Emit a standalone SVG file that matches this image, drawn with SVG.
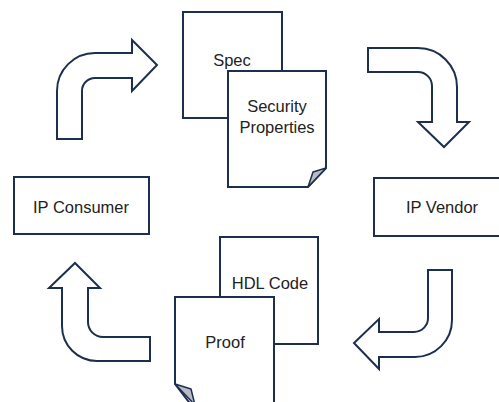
<svg xmlns="http://www.w3.org/2000/svg" width="499" height="402" viewBox="0 0 499 402">
<style>
.s{fill:#fff;stroke:#1d2f4f;stroke-width:2;stroke-linejoin:miter}
.f{fill:#b7bcc6;stroke:#1d2f4f;stroke-width:1.5;stroke-linejoin:round}
text{font-family:"Liberation Sans",Arial,sans-serif;font-size:16.5px;fill:#222;text-anchor:middle}
</style>
<rect width="499" height="402" fill="#fff"/>
<g id="connectors">
<path class="s" d="M57,139 L57,91 A38,38 0 0 1 95,53 L132,53 L132,40 L157,65 L132,91 L132,78 L95,78 A13,13 0 0 0 82,91 L82,139 Z"/>
<path class="s" d="M368,48 L418,48 A39,39 0 0 1 457,87 L457,122 L469,122 L444,147 L418,122 L432,122 L432,86 A14,14 0 0 0 418,72 L368,72 Z"/>
<path class="s" d="M428,270 L452,270 L452,320 A37,37 0 0 1 415,357 L379,357 L379,369 L354,343 L379,319 L379,332 L414,332 A14,14 0 0 0 428,318 Z"/>
<path class="s" d="M150,361 L150,337 L103,337 A15,15 0 0 1 88,322 L88,288 L100,288 L75,263 L49,288 L62,288 L62,326 A35,35 0 0 0 97,361 Z"/>
</g>
<g id="spec">
<rect class="s" x="183" y="12" width="99" height="106"/>
<text x="232" y="66">Spec</text>
</g>
<g id="security-properties">
<path class="s" d="M228,71 L326,71 L326,168 L308,187 L228,187 Z"/>
<path class="f" d="M326,168 L308,187 L313,172 Z"/>
<text x="277" y="112">Security</text>
<text x="277" y="133">Properties</text>
</g>
<g id="hdl-code">
<rect class="s" x="220" y="237" width="98" height="107"/>
<text x="270" y="289">HDL Code</text>
</g>
<g id="proof">
<path class="s" d="M175,297 L274,297 L274,410 L195,410 L175,384 Z"/>
<path class="f" d="M175,384 L191,389 L195,405 Z"/>
<text x="225" y="348">Proof</text>
</g>
<g id="ip-consumer">
<rect class="s" x="14" y="177" width="135" height="57"/>
<text x="81" y="213">IP Consumer</text>
</g>
<g id="ip-vendor">
<rect class="s" x="374" y="178" width="130" height="58"/>
<text x="442" y="213">IP Vendor</text>
</g>
</svg>
